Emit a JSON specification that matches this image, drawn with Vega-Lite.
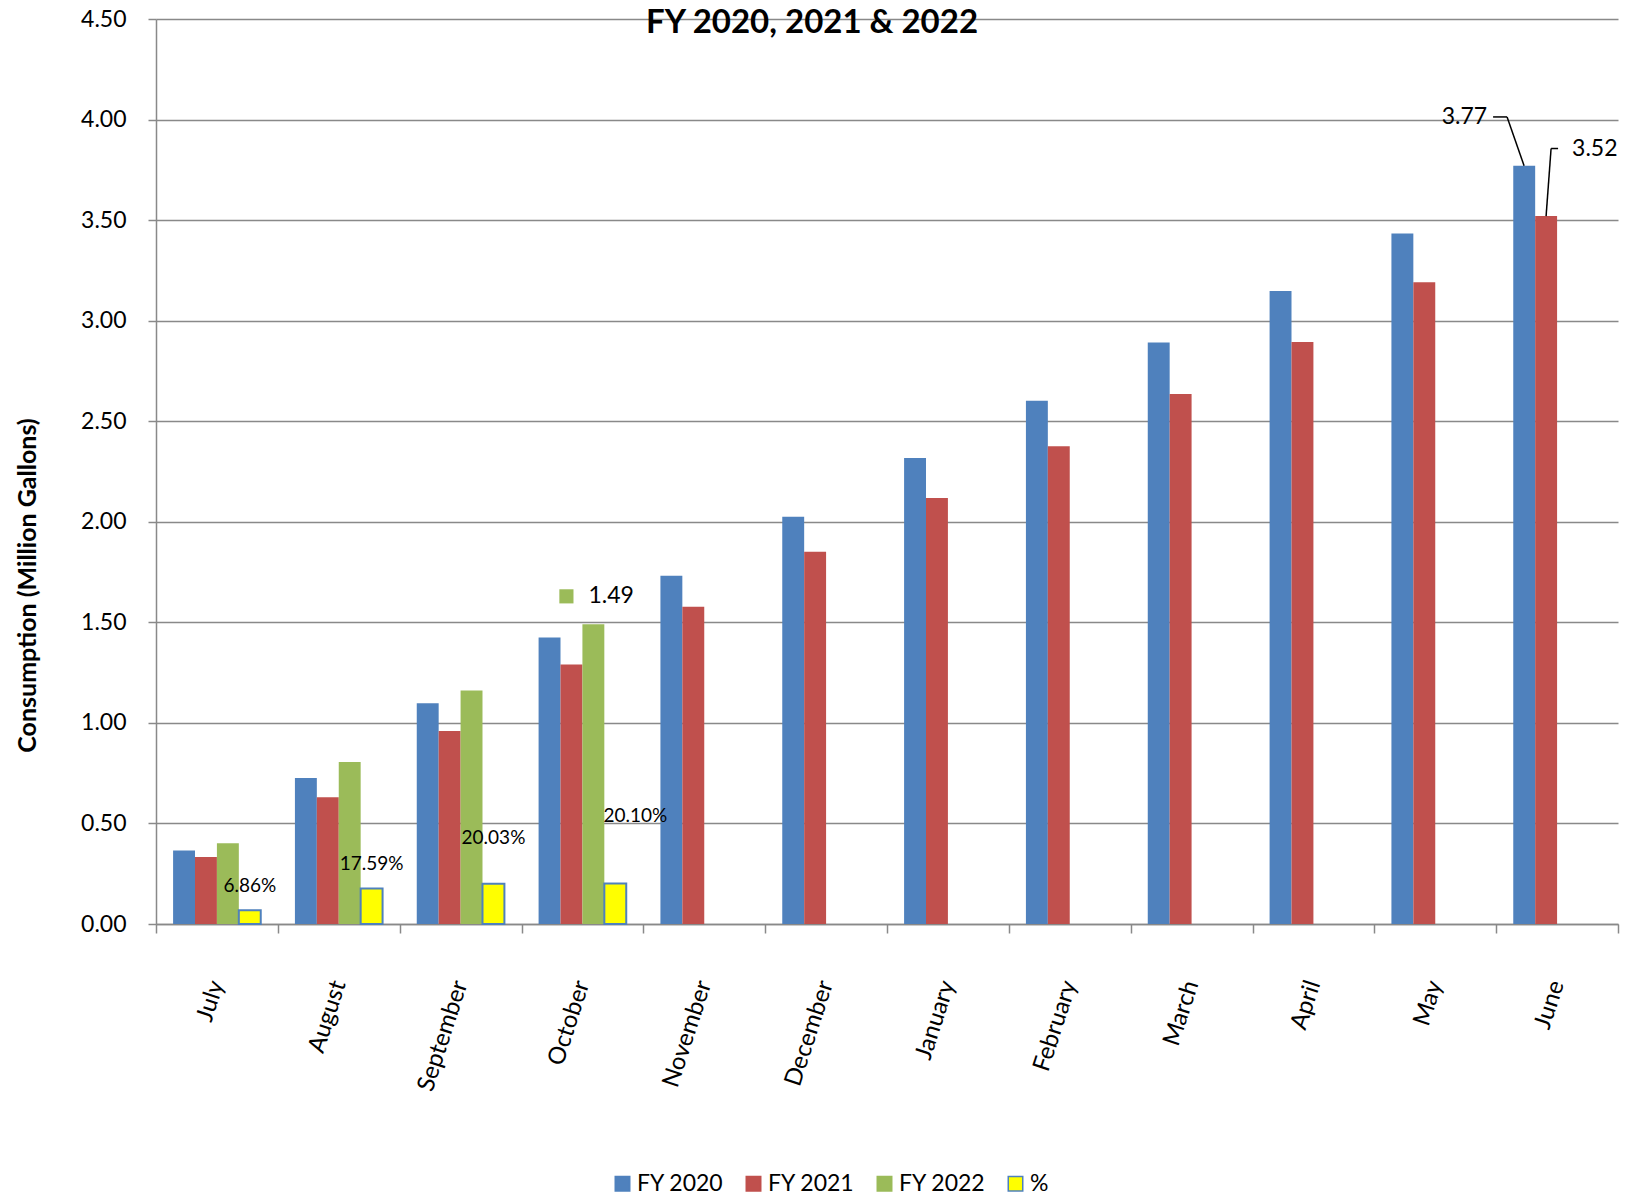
{
  "$schema": "https://vega.github.io/schema/vega-lite/v6.json",
  "width": 1462,
  "height": 905,
  "autosize": {"type": "none"},
  "padding": {"left": 156, "top": 19, "right": 11, "bottom": 275},
  "background": "white",
  "config": {"view": {"stroke": null}, "font": "Lato"},
  "title": {"text": "FY 2020, 2021 & 2022", "font": "Lato", "fontSize": 33, "fontWeight": "bold", "color": "black", "anchor": "middle", "frame": "group", "dx": -75, "offset": -58, "baseline": "alphabetic"},
  "data": {"values": [
    {"month": "July", "series": "FY 2020", "value": 0.365},
    {"month": "July", "series": "FY 2021", "value": 0.333},
    {"month": "July", "series": "FY 2022", "value": 0.401},
    {"month": "July", "series": "%", "value": 0.0686},
    {"month": "August", "series": "FY 2020", "value": 0.726},
    {"month": "August", "series": "FY 2021", "value": 0.630},
    {"month": "August", "series": "FY 2022", "value": 0.806},
    {"month": "August", "series": "%", "value": 0.1759},
    {"month": "September", "series": "FY 2020", "value": 1.098},
    {"month": "September", "series": "FY 2021", "value": 0.960},
    {"month": "September", "series": "FY 2022", "value": 1.161},
    {"month": "September", "series": "%", "value": 0.2003},
    {"month": "October", "series": "FY 2020", "value": 1.425},
    {"month": "October", "series": "FY 2021", "value": 1.290},
    {"month": "October", "series": "FY 2022", "value": 1.49},
    {"month": "October", "series": "%", "value": 0.2010},
    {"month": "November", "series": "FY 2020", "value": 1.732},
    {"month": "November", "series": "FY 2021", "value": 1.578},
    {"month": "December", "series": "FY 2020", "value": 2.025},
    {"month": "December", "series": "FY 2021", "value": 1.851},
    {"month": "January", "series": "FY 2020", "value": 2.317},
    {"month": "January", "series": "FY 2021", "value": 2.118},
    {"month": "February", "series": "FY 2020", "value": 2.602},
    {"month": "February", "series": "FY 2021", "value": 2.375},
    {"month": "March", "series": "FY 2020", "value": 2.891},
    {"month": "March", "series": "FY 2021", "value": 2.635},
    {"month": "April", "series": "FY 2020", "value": 3.148},
    {"month": "April", "series": "FY 2021", "value": 2.894},
    {"month": "May", "series": "FY 2020", "value": 3.434},
    {"month": "May", "series": "FY 2021", "value": 3.191},
    {"month": "June", "series": "FY 2020", "value": 3.77},
    {"month": "June", "series": "FY 2021", "value": 3.52}
  ]},
  "encoding": {
    "x": {
      "field": "month", "type": "nominal",
      "sort": ["July", "August", "September", "October", "November", "December", "January", "February", "March", "April", "May", "June"],
      "scale": {"paddingInner": 0, "paddingOuter": 0},
      "axis": {"title": null, "labelAngle": -72, "labelAlign": "right", "labelBaseline": "middle", "labelFontSize": 24, "labelFont": "Lato", "labelColor": "black", "labelPadding": 48, "tickBand": "extent", "tickSize": 9, "tickColor": "#898989", "tickWidth": 1.5, "domainColor": "#898989", "domainWidth": 1.5, "grid": false}
    },
    "y": {
      "field": "value", "type": "quantitative",
      "scale": {"domain": [0, 4.5], "nice": false},
      "axis": {"values": [0, 0.5, 1, 1.5, 2, 2.5, 3, 3.5, 4, 4.5], "format": ".2f", "labelFontSize": 23, "labelFont": "Lato", "labelColor": "black", "labelPadding": 22, "tickSize": 8, "tickColor": "#898989", "tickWidth": 1.5, "domainColor": "#898989", "domainWidth": 1.5, "grid": true, "gridColor": "#898989", "gridWidth": 1.5, "title": "Consumption (Million Gallons)", "titleFontSize": 25, "titleFont": "Lato", "titleFontWeight": "bold", "titleColor": "black", "titleX": -129, "titleY": 566, "titleAngle": -90, "titleAlign": "center", "titleBaseline": "middle"}
    }
  },
  "layer": [
    {
      "mark": {"type": "bar"},
      "encoding": {
        "xOffset": {"field": "series", "type": "nominal", "scale": {"domain": ["FY 2020", "FY 2021", "FY 2022", "%"], "paddingInner": 0, "paddingOuter": 0.78}},
        "color": {"field": "series", "type": "nominal", "scale": {"domain": ["FY 2020", "FY 2021", "FY 2022", "%"], "range": ["#4F81BD", "#C0504D", "#9BBB59", "#FFFF00"]},
          "legend": {"orient": "none", "legendX": 455, "legendY": 1153, "direction": "horizontal", "title": null, "symbolType": "square", "symbolSize": 210, "labelFontSize": 23, "labelFont": "Lato", "labelColor": "black", "columnPadding": 18, "labelOffset": 3, "symbolStrokeWidth": 1.5}},
        "stroke": {"field": "series", "type": "nominal", "scale": {"domain": ["FY 2020", "FY 2021", "FY 2022", "%"], "range": ["#4F81BD", "#C0504D", "#9BBB59", "#4F81BD"]},
          "legend": {"orient": "none", "legendX": 455, "legendY": 1153, "direction": "horizontal", "title": null, "symbolType": "square", "symbolSize": 210, "labelFontSize": 23, "labelFont": "Lato", "labelColor": "black", "columnPadding": 18, "labelOffset": 3, "symbolStrokeWidth": 1.5}},
        "strokeWidth": {"condition": {"test": "datum.series === '%'", "value": 2}, "value": 0}
      }
    },
    {
      "transform": [{"filter": "datum.series === '%' && datum.month === 'July'"}],
      "mark": {"type": "text", "fontSize": 19, "font": "Lato", "color": "black", "dy": -24, "align": "center", "baseline": "middle"},
      "encoding": {
        "xOffset": {"field": "series", "type": "nominal", "scale": {"domain": ["FY 2020", "FY 2021", "FY 2022", "%"], "paddingInner": 0, "paddingOuter": 0.78}},
        "text": {"field": "value", "type": "quantitative", "format": ".2%"}
      }
    },
    {
      "transform": [{"filter": "datum.series === '%' && datum.month === 'August'"}],
      "mark": {"type": "text", "fontSize": 19, "font": "Lato", "color": "black", "dy": -25, "align": "center", "baseline": "middle"},
      "encoding": {
        "xOffset": {"field": "series", "type": "nominal", "scale": {"domain": ["FY 2020", "FY 2021", "FY 2022", "%"], "paddingInner": 0, "paddingOuter": 0.78}},
        "text": {"field": "value", "type": "quantitative", "format": ".2%"}
      }
    },
    {
      "transform": [{"filter": "datum.series === '%' && datum.month === 'September'"}],
      "mark": {"type": "text", "fontSize": 19, "font": "Lato", "color": "black", "dy": -46, "align": "center", "baseline": "middle"},
      "encoding": {
        "xOffset": {"field": "series", "type": "nominal", "scale": {"domain": ["FY 2020", "FY 2021", "FY 2022", "%"], "paddingInner": 0, "paddingOuter": 0.78}},
        "text": {"field": "value", "type": "quantitative", "format": ".2%"}
      }
    },
    {
      "transform": [{"filter": "datum.series === '%' && datum.month === 'October'"}],
      "mark": {"type": "text", "fontSize": 19, "font": "Lato", "color": "black", "dx": 20, "dy": -68, "align": "center", "baseline": "middle"},
      "encoding": {
        "xOffset": {"field": "series", "type": "nominal", "scale": {"domain": ["FY 2020", "FY 2021", "FY 2022", "%"], "paddingInner": 0, "paddingOuter": 0.78}},
        "text": {"field": "value", "type": "quantitative", "format": ".2%"}
      }
    },
    {
      "transform": [{"filter": "datum.month === 'October' && datum.series === 'FY 2022'"}],
      "mark": {"type": "text", "fontSize": 23, "font": "Lato", "color": "black", "dx": 6, "dy": -28, "align": "left", "baseline": "middle"},
      "encoding": {
        "text": {"field": "value", "type": "quantitative", "format": ".2f"}
      }
    },
    {
      "transform": [{"filter": "datum.month === 'October' && datum.series === 'FY 2022'"}],
      "mark": {"type": "point", "shape": "square", "filled": true, "opacity": 1, "color": "#9BBB59", "size": 200, "xOffset": -16, "yOffset": -28},
      "encoding": {}
    },
    {
      "transform": [{"filter": "datum.month === 'June' && datum.series === 'FY 2020'"}],
      "mark": {"type": "text", "fontSize": 23, "font": "Lato", "color": "black", "dx": -70, "dy": -49, "align": "right", "baseline": "middle"},
      "encoding": {"text": {"field": "value", "type": "quantitative", "format": ".2f"}}
    },
    {
      "transform": [{"filter": "datum.month === 'June' && datum.series === 'FY 2021'"}],
      "mark": {"type": "text", "fontSize": 23, "font": "Lato", "color": "black", "dx": 15, "dy": -67, "align": "left", "baseline": "middle"},
      "encoding": {"text": {"field": "value", "type": "quantitative", "format": ".2f"}}
    },
    {
      "transform": [{"filter": "datum.month === 'June' && datum.series === 'FY 2020'"}],
      "mark": {"type": "rule", "color": "black", "strokeWidth": 1.5, "xOffset": -33, "x2Offset": -50},
      "encoding": {"x2": {"field": "month"}, "y2": {"datum": 4.013}}
    },
    {
      "transform": [{"filter": "datum.month === 'June' && datum.series === 'FY 2020'"}],
      "mark": {"type": "rule", "color": "black", "strokeWidth": 1.5, "xOffset": -50, "x2Offset": -64},
      "encoding": {"x2": {"field": "month"}, "y": {"datum": 4.013}}
    },
    {
      "transform": [{"filter": "datum.month === 'June' && datum.series === 'FY 2021'"}],
      "mark": {"type": "rule", "color": "black", "strokeWidth": 1.5, "xOffset": -11, "x2Offset": -6},
      "encoding": {"x2": {"field": "month"}, "y2": {"datum": 3.856}}
    },
    {
      "transform": [{"filter": "datum.month === 'June' && datum.series === 'FY 2021'"}],
      "mark": {"type": "rule", "color": "black", "strokeWidth": 1.5, "xOffset": -6, "x2Offset": 1},
      "encoding": {"x2": {"field": "month"}, "y": {"datum": 3.856}}
    }
  ]
}
